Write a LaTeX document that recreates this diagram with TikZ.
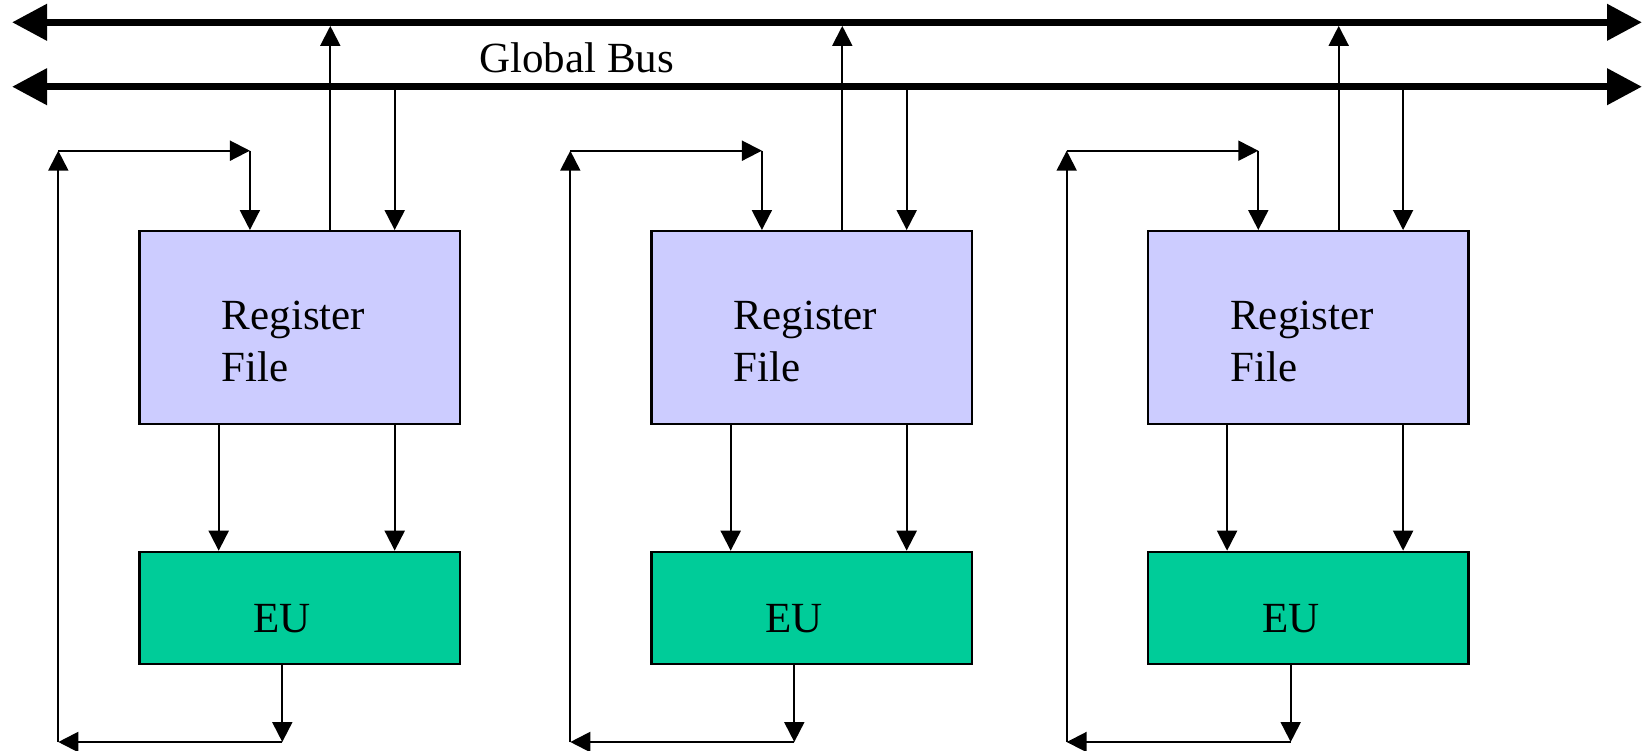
\documentclass[tikz,border=0pt]{standalone}
\usepackage{fontspec}
\setmainfont{Liberation Serif}
\usetikzlibrary{arrows.meta}
\definecolor{rfblue}{HTML}{CCCCFF}
\definecolor{eugreen}{HTML}{00CC99}
\tikzset{
  regfile/.style={draw, line width=2.2pt, fill=rfblue, minimum width=320.7pt,
    minimum height=192.7pt, inner sep=0pt, anchor=north west},
  eunit/.style={draw, line width=2.2pt, fill=eugreen, minimum width=320.7pt,
    minimum height=112pt, inner sep=0pt, anchor=north west},
  lbl/.style={inner sep=0pt, font=\fontsize{43}{51}\selectfont},
  arr/.style={line width=2pt, -{Triangle[length=20pt,width=20pt]}},
  bus/.style={line width=7.3pt,
    {Triangle[length=35pt,width=35pt]}-{Triangle[length=35pt,width=35pt]}}
}
\begin{document}
\begin{tikzpicture}[x=1pt,y=-1pt]
  \useasboundingbox (0,0) rectangle (1647,750);
  % global bus
  \coordinate (busAw) at (12,22.3);
  \coordinate (busAe) at (1642,22.3);
  \coordinate (busBw) at (12,86.7);
  \coordinate (busBe) at (1642,86.7);
  \draw[bus] (busAw) -- (busAe);
  \draw[bus] (busBw) -- (busBe);
  \node[lbl, anchor=base west] (gbus) at (479,72.7) {Global Bus};
  % register files and execution units
  \foreach \x/\i in {138.3/1, 650.3/2, 1146.7/3} {
    \node[regfile] (rf\i) at (\x,230) {};
    \node[eunit] (eu\i) at (\x,550.7) {};
    \node[lbl, anchor=base west] (rl\i) at (\x+83.4,329.3) {Register};
    \node[lbl, anchor=base west] (fl\i) at (\x+83.4,381) {File};
    \node[lbl, anchor=base] (el\i) at (\x+144,632.7) {EU};
    \coordinate (lb\i) at (\x-80,742);
    \coordinate (lt\i) at (\x-80,150.7);
    % bus connections
    \draw[arr, shorten >=3.6pt] ([xshift=192pt]rf\i.north west)
      -- ([xshift=192pt]rf\i.north west |- busAw);
    \draw[arr] ([xshift=256.4pt]rf\i.north west |- busBw)
      -- ([xshift=256.4pt]rf\i.north west);
    % register file to EU
    \draw[arr] ([xshift=80.4pt]rf\i.south west) -- ([xshift=80.4pt]eu\i.north west);
    \draw[arr] ([xshift=256.4pt]rf\i.south west) -- ([xshift=256.4pt]eu\i.north west);
    % local feedback loop
    \draw[arr] ([xshift=144pt]eu\i.south west)
      -- ([xshift=144pt]eu\i.south west |- lb\i) coordinate (ob\i);
    \draw[arr] (ob\i) -- (lb\i);
    \draw[arr] (lb\i) -- (lt\i);
    \draw[arr] (lt\i) -- ([xshift=111.6pt]rf\i.north west |- lt\i) coordinate (ot\i);
    \draw[arr] (ot\i) -- ([xshift=111.6pt]rf\i.north west);
  }
\end{tikzpicture}
\end{document}
